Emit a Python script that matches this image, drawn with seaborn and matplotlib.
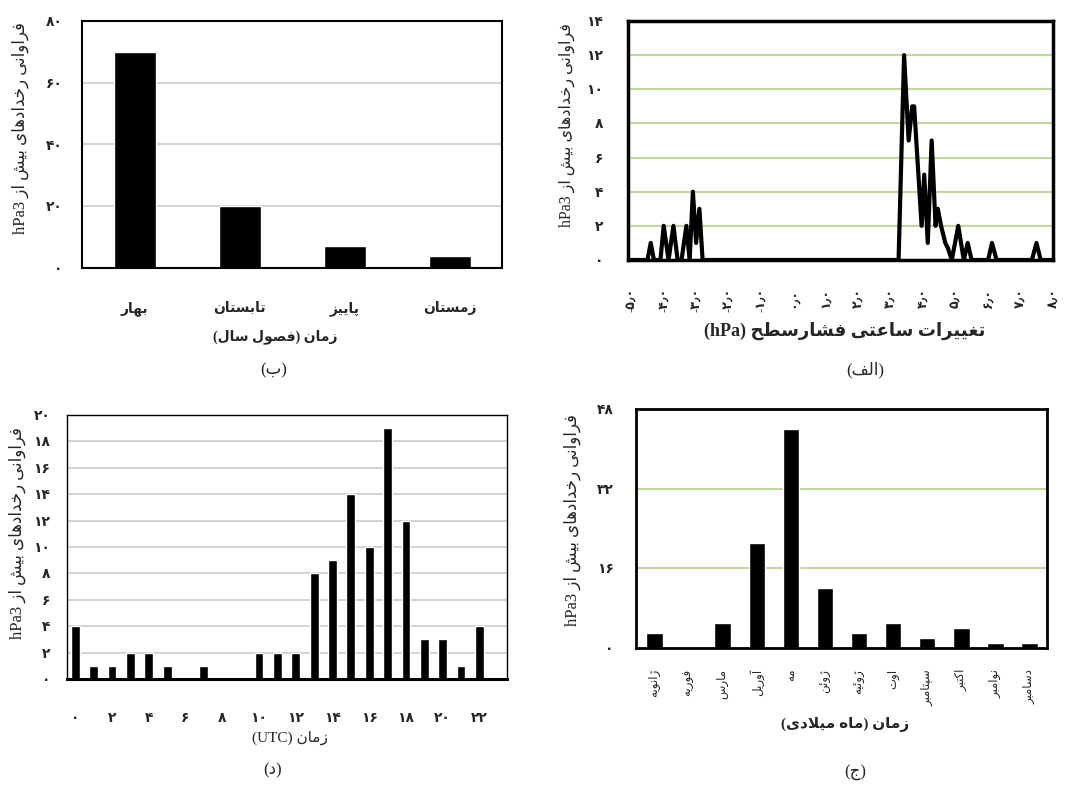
import seaborn as sns
import matplotlib.pyplot as plt
import numpy as np
import pandas as pd

# ---------------- data ----------------
seasons = ['بهار', 'تابستان', 'پاییز', 'زمستان']
season_counts = [70, 20, 7, 4]

months = ['ژانویه', 'فوریه', 'مارس', 'آوریل', 'مه', 'ژوئن', 'ژوئیه', 'اوت',
          'سپتامبر', 'اکتبر', 'نوامبر', 'دسامبر']
month_counts = [3, 0, 5, 21, 44, 12, 3, 5, 2, 4, 1, 1]

hours = list(range(24))
hour_counts = [4, 1, 1, 2, 2, 1, 0, 1, 0, 0, 2, 2, 2, 8, 9, 14, 10, 19, 12, 3, 3, 1, 4, 0]

# hourly pressure change (hPa) vs frequency
dp = [-5.0, -4.5, -4.4, -4.3, -4.1, -4.0, -3.85, -3.7, -3.57, -3.45, -3.3, -3.2, -3.1, -3.0,
      -2.9, -2.8, 3.24, 3.41, 3.55, 3.66, 3.72, 3.95, 4.03, 4.14, 4.26, 4.38, 4.45, 4.55,
      4.68, 4.76, 4.88, 5.08, 5.25, 5.37, 5.49, 6.0, 6.12, 6.26, 7.35, 7.49, 7.62, 8.0]
dp_counts = [0, 0, 1, 0, 0, 2, 0, 2, 0, 0, 2, 0, 4, 1,
             3, 0, 0, 12, 7, 9, 9, 2, 5, 1, 7, 2, 3, 2,
             1, 0.7, 0, 2, 0, 1, 0, 0, 1, 0, 0, 1, 0, 0]
dp_ticks = [-5, -4, -3, -2, -1, 0, 1, 2, 3, 4, 5, 6, 7, 8]

# ---------------- persian text helpers ----------------
DUAL = {'ب': 0xFE8F, 'ت': 0xFE95, 'ث': 0xFE99, 'ج': 0xFE9D, 'ح': 0xFEA1, 'خ': 0xFEA5,
        'س': 0xFEB1, 'ش': 0xFEB5, 'ص': 0xFEB9, 'ض': 0xFEBD, 'ط': 0xFEC1, 'ظ': 0xFEC5,
        'ع': 0xFEC9, 'غ': 0xFECD, 'ف': 0xFED1, 'ق': 0xFED5, 'ل': 0xFEDD, 'م': 0xFEE1,
        'ن': 0xFEE5, 'ه': 0xFEE9, 'ئ': 0xFE89, 'پ': 0xFB56, 'ک': 0xFB8E, 'گ': 0xFB92,
        'ی': 0xFBFC}
RIGHT = {'ا': 0xFE8D, 'آ': 0xFE81, 'د': 0xFEA9, 'ذ': 0xFEAB, 'ر': 0xFEAD, 'ز': 0xFEAF,
         'ژ': 0xFB8A, 'و': 0xFEED}


def fa(text):
    # shape arabic letters and put them in visual (left-to-right) order
    out = []
    i = 0
    n = len(text)
    while i < n:
        c = text[i]
        if c not in DUAL and c not in RIGHT:
            out.append(c)
            i += 1
            continue
        prev_j = i > 0 and text[i - 1] in DUAL
        if c == 'ل' and i + 1 < n and text[i + 1] in 'اآ':
            base = 0xFEFB if text[i + 1] == 'ا' else 0xFEF5
            out.append(chr(base + 1 if prev_j else base))
            i += 2
            continue
        if c in DUAL:
            next_j = i + 1 < n and (text[i + 1] in DUAL or text[i + 1] in RIGHT)
            idx = (3 if next_j else 1) if prev_j else (2 if next_j else 0)
            out.append(chr(DUAL[c] + idx))
        else:
            out.append(chr(RIGHT[c] + (1 if prev_j else 0)))
        i += 1
    mirror = {'(': ')', ')': '('}
    return ''.join(mirror.get(ch, ch) for ch in reversed(out))


def fd(s):
    return str(s).translate(str.maketrans('0123456789.', '۰۱۲۳۴۵۶۷۸۹٫'))


# ---------------- figure ----------------
sns.set_style('white')
plt.rcParams['font.family'] = ['Liberation Serif', 'DejaVu Sans']

W, H = 1083, 785
fig = plt.figure(figsize=(W / 100, H / 100), dpi=100)


def box(l, t, r, b):
    return [l / W, 1 - b / H, (r - l) / W, (b - t) / H]


def ftext(x, y, s, **kw):
    fig.text(x / W, 1 - y / H, s, ha='center', va='center', **kw)


gray = '#cfcfcf'
green = '#c4d79b'
ylab = 'hPa3 ' + fa('فراوانی رخدادهای بیش از')

# (ب) seasons
ax_b = fig.add_axes(box(82, 21, 502, 268))
sns.barplot(x=seasons, y=season_counts, color='black', saturation=1, width=0.4, ax=ax_b)
ax_b.set_xlim(-0.5, 3.5)
ax_b.set_ylim(0, 80)
ax_b.set_yticks(range(0, 81, 20))
ax_b.set_yticklabels([fd(v) for v in range(0, 81, 20)], fontsize=10, fontweight='bold')
ax_b.set_xticks(range(len(seasons)))
ax_b.set_xticklabels([fa(s) for s in seasons], fontsize=10, fontweight='bold')
ax_b.tick_params(axis='x', length=0, pad=24)
ax_b.tick_params(axis='y', length=0, pad=14)
ax_b.yaxis.grid(True, color=gray, lw=1.3)
ax_b.set_axisbelow(True)
ax_b.set_xlabel('')
ax_b.set_ylabel('')
for sp in ax_b.spines.values():
    sp.set_color('black')
    sp.set_linewidth(1.5)
ftext(20, 128, ylab, rotation=90, fontsize=12)
ftext(275, 337, fa('زمان (فصول سال)'), fontsize=10, fontweight='bold')
ftext(274, 370, fa('(ب)'), fontsize=12)

# (الف) pressure change line
ax_a = fig.add_axes(box(628, 21, 1053, 260))
sns.lineplot(x=dp, y=dp_counts, color='black', lw=3, ax=ax_a)
ax_a.set_xlim(-5.1, 8.0)
ax_a.set_ylim(0, 14)
ax_a.set_yticks(range(0, 15, 2))
ax_a.set_yticklabels([fd(v) for v in range(0, 15, 2)], fontsize=10, fontweight='bold')
ax_a.set_xticks(dp_ticks)
ax_a.set_xticklabels([fd(f'{v:.1f}') for v in dp_ticks], rotation=90, fontsize=9,
                     fontweight='bold')
ax_a.tick_params(axis='x', length=0, pad=20)
ax_a.tick_params(axis='y', length=0, pad=18)
ax_a.yaxis.grid(True, color=green, lw=1.5)
ax_a.set_axisbelow(True)
for sp in ax_a.spines.values():
    sp.set_color('black')
    sp.set_linewidth(2.5)
ftext(567, 125, ylab, rotation=90, fontsize=11.5)
ftext(845, 331, '(hPa) ' + fa('تغییرات ساعتی فشارسطح'), fontsize=13, fontweight='bold')
ftext(865, 370, fa('(الف)'), fontsize=12)

# (د) hours
ax_d = fig.add_axes(box(67, 415, 507, 679))
sns.barplot(x=hours, y=hour_counts, color='black', saturation=1, width=0.48, ax=ax_d)
ax_d.set_xlim(-0.45, 23.5)
ax_d.set_ylim(0, 20)
ax_d.set_yticks(range(0, 21, 2))
ax_d.set_yticklabels([fd(v) for v in range(0, 21, 2)], fontsize=10, fontweight='bold')
ax_d.set_xticks(hours[::2])
ax_d.set_xticklabels([fd(h) for h in hours[::2]], fontsize=10, fontweight='bold')
ax_d.tick_params(axis='x', length=0, pad=24)
ax_d.tick_params(axis='y', length=6, color=gray, pad=6)
ax_d.yaxis.grid(True, color=gray, lw=1.3)
ax_d.set_axisbelow(True)
ax_d.set_xlabel('')
ax_d.set_ylabel('')
for name, sp in ax_d.spines.items():
    sp.set_color('black')
    sp.set_linewidth(2.2 if name == 'bottom' else 1.0)
ftext(17, 533, ylab, rotation=90, fontsize=12)
ftext(290, 738, '(UTC) ' + fa('زمان'), fontsize=11)
ftext(273, 770, fa('(د)'), fontsize=12)

# (ج) months
ax_c = fig.add_axes(box(636, 409, 1047, 648))
sns.barplot(x=months, y=month_counts, color='black', saturation=1, width=0.48, ax=ax_c)
ax_c.set_xlim(-0.54, 11.51)
ax_c.set_ylim(0, 48)
ax_c.set_yticks([0, 16, 32, 48])
ax_c.set_yticklabels([fd(v) for v in [0, 16, 32, 48]], fontsize=10, fontweight='bold')
ax_c.set_xticks(range(len(months)))
ax_c.set_xticklabels([fa(m) for m in months], rotation=90, fontsize=8.5)
ax_c.tick_params(axis='x', length=0, pad=15)
ax_c.tick_params(axis='y', length=0, pad=16)
ax_c.yaxis.grid(True, color=green, lw=1.5)
ax_c.set_axisbelow(True)
ax_c.set_xlabel('')
ax_c.set_ylabel('')
for sp in ax_c.spines.values():
    sp.set_color('black')
    sp.set_linewidth(2.0)
ftext(572, 520, ylab, rotation=90, fontsize=12)
ftext(845, 725, fa('زمان (ماه میلادی)'), fontsize=11, fontweight='bold')
ftext(855, 773, fa('(ج)'), fontsize=12)

fig.savefig('out.png', dpi=100)
